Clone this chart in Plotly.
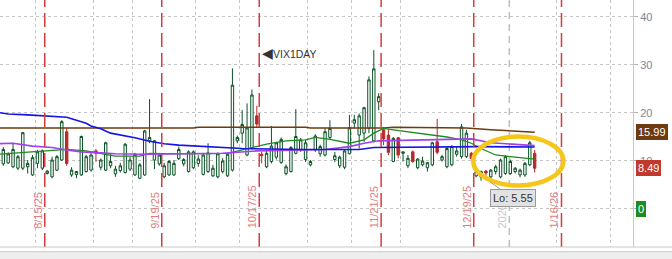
import pandas as pd
import plotly.graph_objects as go

symbol = "VIX1DAY"

# trading days shown (bar index 0..109) plus future slots
holidays = ["2025-09-01", "2025-11-27", "2025-12-25", "2026-01-01"]
all_days = [d for d in pd.bdate_range("2025-08-05", "2026-02-13") if d.strftime("%Y-%m-%d") not in holidays]
day_str = [d.strftime("%Y-%m-%d") for d in all_days]

opens = [9.4, 9.6, 8.8, 8.5, 8.5, 8.8, 7.1, 9.5, 8.5, 7.4,
         6.7, 8.1, 10.2, 16.1, 7.1, 7.2, 7.1, 7.8, 8.1, 12.1,
         8.7, 8.1, 9.0, 7.3, 8.0, 7.6, 8.3, 7.1, 6.4, 7.1,
         14.2, 10.2, 9.4, 6.7, 7.1, 7.1, 10.5, 9.4, 7.8, 8.6,
         9.5, 7.2, 7.8, 6.9, 6.7, 7.8, 6.9, 8.1, 14.2, 15.8,
         11.25, 12.6, 19.4, 11.4, 8.8, 9.9, 10.8, 9.7, 7.4, 7.8,
         11.6, 12.4, 10.3, 9.2, 12.3, 11.5, 11.25, 14.9, 10.3, 9.0,
         8.7, 11.5, 17.9, 15.4, 15.8, 16.8, 14.2, 22.35, 16.5, 15.4,
         9.9, 14.85, 11.6, 9.0, 11.9, 8.6, 9.2, 8.6, 9.2, 14.0,
         10.2, 8.8, 9.2, 11.4, 10.9, 10.9, 11.6, 6.9, 6.7, 7.9,
         6.7, 7.8, 6.7, 7.4, 7.4, 7.8, 7.1, 7.1, 9.2, 11.6]
highs = [12.9, 11.8, 13.8, 11.25, 16.0, 10.2, 11.25, 12.3, 12.4, 8.1,
         10.9, 11.25, 18.5, 16.8, 8.7, 7.9, 15.3, 11.25, 11.9, 12.5,
         10.5, 14.0, 11.6, 9.0, 9.6, 13.7, 10.9, 11.7, 9.6, 16.5,
         22.9, 14.4, 11.6, 9.6, 10.2, 10.2, 13.0, 10.6, 12.2, 12.2,
         11.2, 11.6, 13.7, 9.2, 11.8, 10.6, 11.7, 29.3, 15.3, 20.6,
         22.0, 24.9, 21.5, 11.9, 12.3, 17.3, 14.0, 14.9, 9.3, 13.1,
         20.8, 14.8, 14.4, 10.2, 15.6, 13.4, 16.8, 18.5, 11.9, 11.1,
         12.4, 19.6, 19.6, 19.9, 21.3, 27.6, 33.1, 24.1, 17.1, 16.5,
         15.0, 15.0, 11.9, 11.25, 12.2, 10.6, 10.9, 9.8, 14.0, 18.75,
         11.3, 13.0, 13.3, 13.0, 17.7, 16.5, 11.9, 8.1, 8.0, 8.1,
         8.3, 9.2, 10.5, 11.25, 10.3, 8.7, 8.4, 9.8, 14.2, 12.3]
lows = [9.0, 9.4, 8.5, 8.1, 8.1, 7.4, 6.9, 8.5, 8.1, 7.2,
        6.4, 7.9, 10.1, 9.0, 6.7, 6.4, 6.9, 7.6, 7.8, 9.8,
        8.1, 7.9, 8.5, 6.7, 7.6, 7.4, 7.9, 6.9, 6.2, 6.9,
        13.7, 8.3, 9.0, 6.4, 6.9, 6.9, 10.2, 8.9, 7.6, 8.3,
        8.8, 7.0, 7.5, 6.7, 6.4, 7.4, 6.7, 7.8, 13.7, 13.7,
        11.0, 12.4, 17.1, 9.5, 8.5, 9.5, 10.3, 9.4, 7.0, 7.6,
        11.4, 11.9, 9.8, 8.9, 11.9, 10.9, 10.9, 14.4, 9.8, 8.5,
        8.3, 11.4, 16.8, 12.6, 14.0, 15.8, 13.9, 20.6, 13.3, 11.25,
        9.8, 10.55, 9.9, 8.5, 9.6, 8.3, 8.9, 7.8, 8.9, 11.4,
        9.9, 8.5, 8.9, 10.9, 10.5, 10.6, 10.3, 6.6, 5.9, 6.6,
        5.55, 7.2, 6.4, 7.1, 7.1, 7.4, 6.6, 6.7, 8.9, 7.6]
closes = [12.4, 11.5, 12.4, 10.9, 15.9, 9.5, 10.7, 11.9, 12.1, 7.9,
          10.2, 10.9, 18.2, 9.5, 8.1, 7.8, 15.1, 10.9, 11.25, 11.6,
          10.2, 13.8, 9.9, 8.3, 9.0, 13.5, 10.2, 11.4, 9.2, 16.25,
          14.9, 14.2, 11.25, 9.0, 9.9, 9.5, 12.4, 10.3, 11.9, 11.9,
          10.4, 11.25, 11.7, 8.5, 11.5, 10.0, 11.4, 25.8, 14.9, 17.6,
          16.9, 23.75, 17.7, 11.1, 11.6, 13.1, 13.8, 14.5, 8.8, 12.8,
          15.1, 14.4, 13.8, 9.9, 15.2, 13.0, 16.1, 16.8, 11.1, 10.8,
          12.1, 16.9, 18.6, 19.4, 21.1, 26.9, 29.2, 23.4, 14.6, 11.8,
          14.7, 11.25, 11.9, 10.55, 9.9, 10.4, 10.0, 9.65, 13.8, 11.8,
          10.9, 12.6, 13.0, 12.1, 17.1, 15.8, 10.5, 7.8, 7.8, 7.5,
          8.1, 8.8, 10.2, 10.9, 9.9, 8.5, 8.1, 9.5, 13.8, 8.49]

# moving averages (bar index, value)
ma_brown_idx = [-1, 39, 40, 62, 63, 78, 80, 95, 100, 109]
ma_brown_val = [16.85, 16.85, 17.05, 17.05, 16.85, 16.85, 17.05, 16.85, 16.5, 15.99]
ma_blue_idx = [-1, 1, 5, 10, 13, 15, 17, 18, 20, 22, 27, 30, 33, 36, 42, 49, 61, 73, 76, 90, 98, 109]
ma_blue_val = [20.1, 19.8, 19.6, 19.3, 19.1, 18.5, 17.85, 17.3, 16.7, 15.8, 14.85, 14.1, 13.6, 13.3,
               13.0, 12.6, 12.4, 12.4, 12.8, 12.9, 13.0, 12.9]
ma_purple_idx = [-1, 2, 6, 10, 13, 16, 20, 23, 29, 34, 45, 52, 59, 66, 71, 74, 77, 90, 96, 100, 109]
ma_purple_val = [13.6, 13.7, 13.1, 12.8, 12.3, 11.9, 11.7, 11.5, 11.4, 11.5, 11.6, 12.1, 12.3, 12.4,
                 13.0, 13.7, 14.2, 14.4, 14.6, 13.8, 13.2]
ma_green_idx = [-1, 3, 10, 13, 17, 20, 23, 28, 30, 36, 46, 49, 52, 54, 58, 62, 64, 67, 71, 74, 76,
                78, 80, 84, 88, 91, 94, 96, 98, 101, 105, 109]
ma_green_val = [11.4, 11.7, 12.3, 12.4, 12.1, 11.5, 11.0, 11.0, 11.6, 11.5, 11.6, 12.3, 13.0, 13.5,
                14.2, 14.4, 14.9, 14.5, 13.7, 14.4, 15.8, 16.8, 16.5, 16.0, 15.4, 15.0, 14.4, 13.7,
                12.6, 11.25, 10.8, 10.4]

expiry_dates = ["2025-08-15", "2025-09-19", "2025-10-17", "2025-11-21", "2025-12-19", "2026-01-16"]
expiry_labels = ["8/15/25", "9/19/25", "10/17/25", "11/21/25", "12/19/25", "1/16/26"]
grid_dates = ["2025-08-14", "2025-09-02", "2025-09-12", "2025-10-01", "2025-10-14", "2025-11-03",
              "2025-11-14", "2025-12-01", "2026-01-16", "2026-02-02"]
year_date = "2026-01-02"
year_label = "2026"
y_ticks = [0, 10, 20, 30, 40]
y_ticktext = ["", "10", "20", "30", "40"]
ma_labels = [(15.99, "#6e3a0f"), (closes[-1], "#c0392b"), (0, "#1e8c1e")]

n = len(closes)
xs = list(range(n))
pos = {d: i for i, d in enumerate(day_str)}

Y_TOP, Y_BOT = 43.54, -7.92
PLOT_H = 247.0


def label_center(text, bottom_px=228.5, fs=11):
    # rotated label bottom-aligned: compute center value from approximate text length
    w = sum(0.556 * fs if c.isdigit() else 0.278 * fs for c in text)
    cpx = bottom_px - w / 2
    return Y_TOP - cpx / PLOT_H * (Y_TOP - Y_BOT)


fig = go.Figure()
fig.add_trace(go.Candlestick(
    x=xs, open=opens, high=highs, low=lows, close=closes,
    increasing=dict(line=dict(color="#0b5326", width=1), fillcolor="#ffffff"),
    decreasing=dict(line=dict(color="#b52a2a", width=1), fillcolor="#b52a2a"),
    whiskerwidth=0, showlegend=False, hoverinfo="skip"))

for ix, vals, col, w in [(ma_brown_idx, ma_brown_val, "#6e3a0f", 1.5),
                         (ma_green_idx, ma_green_val, "#1f8a1f", 1.3),
                         (ma_purple_idx, ma_purple_val, "#a040f0", 1.6),
                         (ma_blue_idx, ma_blue_val, "#1414e6", 1.6)]:
    fig.add_trace(go.Scatter(x=ix, y=vals, mode="lines", line=dict(color=col, width=w),
                             showlegend=False, hoverinfo="skip"))

shapes = []
annotations = []
for d, lab in zip(expiry_dates, expiry_labels):
    xp = pos[d] + 0.5
    shapes.append(dict(type="line", xref="x", yref="paper", x0=xp, x1=xp, y0=0, y1=1,
                       line=dict(color="#d63c3c", width=1.5, dash="14px,6px")))
    annotations.append(dict(x=xp - 1.45, y=label_center(lab), xref="x", yref="y", text=lab, textangle=-90,
                            showarrow=False, xanchor="center", yanchor="middle",
                            font=dict(size=11, color="#e47b7b", family="Liberation Sans")))
yp = pos[year_date] - 0.2
shapes.append(dict(type="line", xref="x", yref="paper", x0=yp, x1=yp, y0=0, y1=1, layer="below",
                   line=dict(color="#bdbdbd", width=1.5, dash="7px,5px")))
annotations.append(dict(x=yp - 1.45, y=label_center(year_label), xref="x", yref="y", text=year_label,
                        textangle=-90, showarrow=False, xanchor="center", yanchor="middle",
                        font=dict(size=11, color="#c8c8c8", family="Liberation Sans")))

# bottom frame lines / band
shapes.append(dict(type="rect", xref="paper", yref="paper", x0=0, x1=1.07, y0=-0.019, y1=-0.06,
                   fillcolor="#eeeeee", line=dict(width=0), layer="above"))
shapes.append(dict(type="line", xref="paper", yref="paper", x0=0, x1=1.07, y0=0, y1=0,
                   line=dict(color="#c8c8c8", width=1)))
shapes.append(dict(type="line", xref="paper", yref="paper", x0=0, x1=1.07, y0=-0.019, y1=-0.019,
                   line=dict(color="#c8c8c8", width=1)))

# highlight ellipse
shapes.append(dict(type="circle", xref="x", yref="y", x0=96.4, x1=114.9, y0=4.9, y1=15.1,
                   line=dict(color="#f7c61a", width=4.5)))

# symbol label
annotations.append(dict(x=pos["2025-10-17"] + 0.6, y=32.5, xref="x", yref="y",
                        text="<span style='font-size:14px'>\u25c0</span>" + symbol,
                        showarrow=False, xanchor="left", yanchor="middle",
                        font=dict(size=10.5, color="#333333", family="Liberation Sans")))

# low tooltip
lo_i = min(range(n), key=lambda i: lows[i])
annotations.append(dict(x=lo_i, y=lows[lo_i], xref="x", yref="y", text="Lo: %.2f" % lows[lo_i],
                        showarrow=True, arrowhead=0, arrowwidth=1, arrowcolor="#9a9a9a",
                        ax=22, ay=16, bgcolor="#e2e2e2", bordercolor="#9a9a9a", borderwidth=1,
                        borderpad=2, font=dict(size=11, color="#333333", family="Liberation Sans")))

# right-side value boxes
for val, col in ma_labels:
    annotations.append(dict(x=1.005, y=val, xref="paper", yref="y", text="%.2f" % val if val else "0",
                            showarrow=False, xanchor="left", yanchor="middle", bgcolor=col,
                            bordercolor=col, borderwidth=1, borderpad=1,
                            font=dict(size=11, color="#ffffff", family="Liberation Sans")))

grid_x = [pos[d] - 0.5 for d in grid_dates]

fig.update_layout(
    width=672, height=259, margin=dict(l=0, r=39, t=0, b=12),
    paper_bgcolor="#ffffff", plot_bgcolor="#ffffff",
    xaxis=dict(range=[-0.68, 129.17], tickvals=grid_x, showticklabels=False, ticks="",
               showgrid=True, gridcolor="#c4c4c4", griddash="dot", gridwidth=1,
               zeroline=False, showline=False, rangeslider=dict(visible=False), fixedrange=True),
    yaxis=dict(side="right", range=[Y_BOT, Y_TOP], tickvals=y_ticks, ticktext=y_ticktext,
               showgrid=True, gridcolor="#c4c4c4", griddash="dot", gridwidth=1,
               zeroline=False, showline=True, linecolor="#c8c8c8", linewidth=1,
               ticks="outside", ticklen=4, tickcolor="#b0b0b0",
               tickfont=dict(size=11, color="#7d8597", family="Liberation Sans")),
    shapes=shapes, annotations=annotations,
)

fig.write_html("out.html")
